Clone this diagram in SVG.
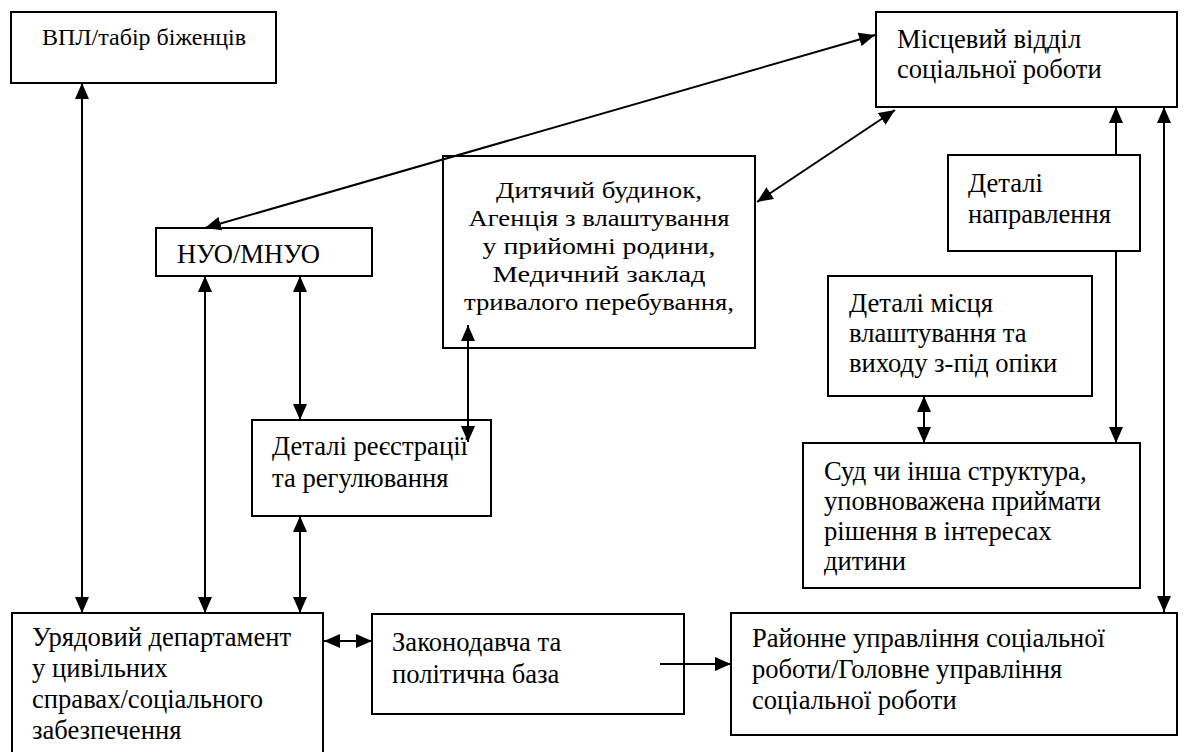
<svg xmlns="http://www.w3.org/2000/svg" width="1187" height="752" viewBox="0 0 1187 752">
<style>
.box{fill:#fff;stroke:#000;stroke-width:2}
.t{font-family:"Liberation Serif","Times New Roman","DejaVu Serif",serif;font-size:26.6px;fill:#000}
.s{font-size:24px}
.c{stroke:#000;stroke-width:2;fill:none}
</style>
<defs>
<marker id="ah" markerUnits="userSpaceOnUse" markerWidth="16" markerHeight="14" refX="16" refY="7" orient="auto-start-reverse" viewBox="0 0 16 14">
<path d="M0,0 L16,7 L0,14 z" fill="#000"/>
</marker>
</defs>
<rect width="1187" height="752" fill="#fff"/>
<g id="n-vpl"><rect class="box" x="11" y="12" width="265" height="71"/><text class="t s" x="42" y="45">ВПЛ/табір біженців</text></g>
<g id="n-misc"><rect class="box" x="876" y="12" width="301" height="95"/><text class="t" x="897" y="48">Місцевий відділ</text><text class="t" x="897" y="78">соціальної роботи</text></g>
<g id="n-nuo"><rect class="box" x="156" y="228" width="216" height="48"/><text class="t" x="177" y="263">НУО/МНУО</text></g>
<g id="n-dyt"><rect class="box" x="443" y="156" width="312" height="192"/>
<text class="t s" text-anchor="middle" x="599" y="198" textLength="206" lengthAdjust="spacingAndGlyphs">Дитячий будинок,</text>
<text class="t s" text-anchor="middle" x="599" y="226" textLength="261" lengthAdjust="spacingAndGlyphs">Агенція з влаштування</text>
<text class="t s" text-anchor="middle" x="599" y="254" textLength="233" lengthAdjust="spacingAndGlyphs">у прийомні родини,</text>
<text class="t s" text-anchor="middle" x="599" y="282" textLength="213" lengthAdjust="spacingAndGlyphs">Медичний заклад</text>
<text class="t s" text-anchor="middle" x="599" y="310" textLength="270" lengthAdjust="spacingAndGlyphs">тривалого перебування,</text></g>
<g id="n-napr"><rect class="box" x="948" y="155" width="192" height="96"/><text class="t" x="968" y="192">Деталі</text><text class="t" x="968" y="223">направлення</text></g>
<g id="n-mists"><rect class="box" x="828" y="276" width="264" height="120"/><text class="t" x="849" y="312">Деталі місця</text><text class="t" x="849" y="342">влаштування та</text><text class="t" x="849" y="372">виходу з-під опіки</text></g>
<g id="n-reestr"><rect class="box" x="252" y="420" width="239" height="96"/><text class="t" x="272" y="455">Деталі реєстрації</text><text class="t" x="272" y="487">та регулювання</text></g>
<g id="n-sud"><rect class="box" x="803" y="443" width="337" height="145"/><text class="t" x="824" y="480">Суд чи інша структура,</text><text class="t" x="824" y="510">уповноважена приймати</text><text class="t" x="824" y="540">рішення в інтересах</text><text class="t" x="824" y="570">дитини</text></g>
<g id="n-uryad"><rect class="box" x="12" y="613" width="311" height="145"/><text class="t" x="32" y="646">Урядовий департамент</text><text class="t" x="32" y="677">у цивільних</text><text class="t" x="32" y="708">справах/соціального</text><text class="t" x="32" y="739">забезпечення</text></g>
<g id="n-zak"><rect class="box" x="372" y="614" width="312" height="100"/><text class="t" x="392" y="651">Законодавча та</text><text class="t" x="392" y="683">політична база</text></g>
<g id="n-rai"><rect class="box" x="731" y="613" width="446" height="122"/><text class="t" x="752" y="647">Районне управління соціальної</text><text class="t" x="752" y="678">роботи/Головне управління</text><text class="t" x="752" y="709">соціальної роботи</text></g>
<g id="connectors">
<line class="c" x1="82" y1="83" x2="82" y2="613" marker-start="url(#ah)" marker-end="url(#ah)"/>
<line class="c" x1="875" y1="35" x2="205" y2="228" marker-start="url(#ah)" marker-end="url(#ah)"/>
<line class="c" x1="895" y1="110" x2="757" y2="202" marker-start="url(#ah)" marker-end="url(#ah)"/>
<line class="c" x1="205" y1="276" x2="205" y2="613" marker-start="url(#ah)" marker-end="url(#ah)"/>
<line class="c" x1="300" y1="276" x2="300" y2="420" marker-start="url(#ah)" marker-end="url(#ah)"/>
<line class="c" x1="468" y1="325" x2="468" y2="442" marker-start="url(#ah)" marker-end="url(#ah)"/>
<line class="c" x1="300" y1="516" x2="300" y2="613" marker-start="url(#ah)" marker-end="url(#ah)"/>
<line class="c" x1="1116" y1="155" x2="1116" y2="107" marker-end="url(#ah)"/>
<line class="c" x1="1116" y1="251" x2="1116" y2="443" marker-end="url(#ah)"/>
<line class="c" x1="1164" y1="107" x2="1164" y2="612" marker-start="url(#ah)" marker-end="url(#ah)"/>
<line class="c" x1="924" y1="396" x2="924" y2="443" marker-start="url(#ah)" marker-end="url(#ah)"/>
<line class="c" x1="324" y1="641" x2="372" y2="641" marker-start="url(#ah)" marker-end="url(#ah)"/>
<line class="c" x1="660" y1="664" x2="731" y2="664" marker-end="url(#ah)"/>
</g>
</svg>
